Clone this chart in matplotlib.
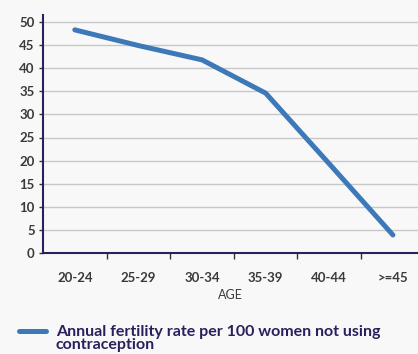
import matplotlib
matplotlib.use("Agg")
import matplotlib.pyplot as plt
import numpy as np

categories = ["20-24", "25-29", "30-34", "35-39", "40-44", ">=45"]
values = [48.3, 44.9, 41.8, 34.6, 19.3, 3.9]
y_ticks = [0, 5, 10, 15, 20, 25, 30, 35, 40, 45, 50]
series_label_lines = ["Annual fertility rate per 100 women not using", "contraception"]
x_title = "AGE"

bg = "#f8f8f8"
navy = "#2b1f5c"
line_color = "#3d79b9"

plt.rcParams['font.family'] = ['Lato', 'DejaVu Sans']

fig = plt.figure(figsize=(4.18, 3.54), dpi=100, facecolor=bg)
ax = fig.add_axes([43/418, 1-253/354, 1-43/418, (253-15)/354])
ax.set_facecolor(bg)

x = np.arange(len(categories))
ax.plot(x, values, color=line_color, linewidth=3.6, solid_capstyle='round',
        solid_joinstyle='round', label=series_label_lines[0])

ax.set_xlim(-0.5, (418-76)/63.4)
ax.set_ylim(0, 50*(253-15)/(253-22))
ax.set_yticks(y_ticks)
ax.set_yticklabels([str(v) for v in y_ticks], fontsize=9.5, color="#3a3a3a", fontweight='bold')
ax.set_xticks(x)
ax.set_xticklabels(categories, fontsize=9.5, color="#3a3a3a", fontweight='bold')
ax.set_xticks(x[:-1] + 0.5, minor=True)
ax.tick_params(axis='x', which='major', length=0, pad=14)
ax.tick_params(axis='x', which='minor', length=4, width=1, color="#333333")
ax.tick_params(axis='y', length=3, width=1, color="#333333", pad=3)
ax.grid(axis='y', color="#c8c8c8", linewidth=1)
ax.set_axisbelow(True)
for s in ['top', 'right']:
    ax.spines[s].set_visible(False)
ax.spines['left'].set_color(navy)
ax.spines['bottom'].set_color(navy)
ax.spines['left'].set_linewidth(1.5)
ax.spines['bottom'].set_linewidth(1.5)
ax.set_xlabel(x_title, fontsize=9, color="#3a3a3a", labelpad=3)

leg = fig.legend(loc='center left', bbox_to_anchor=(19/418, 1-332/354), frameon=False,
                 handlelength=1.7, handletextpad=0.6, borderpad=0, borderaxespad=0,
                 prop={'weight': 'bold', 'size': 11.5})
for t in leg.get_texts():
    t.set_color(navy)

fig.canvas.draw()
tb = leg.get_texts()[0].get_window_extent(fig.canvas.get_renderer())
x0 = tb.x0 / fig.bbox.width
fig.text(x0, 1-345/354, series_label_lines[1], ha='left', va='center',
         fontsize=11.5, fontweight='bold', color=navy)

fig.savefig("out.png", dpi=100, facecolor=bg)
